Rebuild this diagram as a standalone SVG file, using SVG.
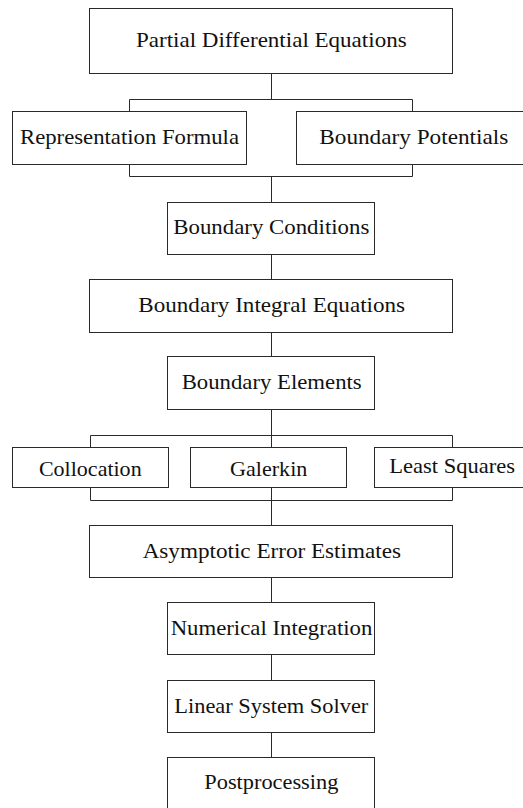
<svg xmlns="http://www.w3.org/2000/svg" width="523" height="808" viewBox="0 0 523 808">
<style>
.box{fill:#fff;stroke:#2a2a2a;stroke-width:1}
.lbl{font-family:"Liberation Serif","DejaVu Serif",serif;font-size:22px;fill:#111;text-anchor:middle}
.con{fill:none;stroke:#2a2a2a;stroke-width:1}
</style>
<rect width="523" height="808" fill="#fff"/>
<g id="connectors" class="con">
<path d="M271.5 73.5V99.5M129.5 111.5V99.5H412.5V111.5"/>
<path d="M129.5 164.5V176.5H412.5V164.5M271.5 176.5V202.5"/>
<path d="M271.5 254.5V279.5M271.5 332.5V356.5"/>
<path d="M271.5 409.5V447.5M90.5 447.5V435.5H452.5V447.5"/>
<path d="M90.5 487.5V500.5H452.5V487.5M271.5 487.5V525.5"/>
<path d="M271.5 577.5V602.5M271.5 654.5V680.5M271.5 732.5V757.5"/>
</g>
<g id="pde"><rect class="box" x="89.5" y="8.5" width="363" height="65"/><text class="lbl" x="271.3" y="46.7" textLength="270.7" lengthAdjust="spacingAndGlyphs">Partial Differential Equations</text></g>
<g id="repformula"><rect class="box" x="12.5" y="111.5" width="234" height="53"/><text class="lbl" x="129.5" y="144" textLength="219" lengthAdjust="spacingAndGlyphs">Representation Formula</text></g>
<g id="bpotentials"><rect class="box" x="296.5" y="111.5" width="232" height="53"/><text class="lbl" x="413.8" y="144" textLength="189" lengthAdjust="spacingAndGlyphs">Boundary Potentials</text></g>
<g id="bconditions"><rect class="box" x="167.5" y="202.5" width="207" height="52"/><text class="lbl" x="271.3" y="234.3" textLength="196" lengthAdjust="spacingAndGlyphs">Boundary Conditions</text></g>
<g id="bie"><rect class="box" x="89.5" y="279.5" width="363" height="53"/><text class="lbl" x="271.7" y="311.8" textLength="266.7" lengthAdjust="spacingAndGlyphs">Boundary Integral Equations</text></g>
<g id="belements"><rect class="box" x="167.5" y="356.5" width="207" height="53"/><text class="lbl" x="271.7" y="389" textLength="180" lengthAdjust="spacingAndGlyphs">Boundary Elements</text></g>
<g id="collocation"><rect class="box" x="12.5" y="447.5" width="156" height="40"/><text class="lbl" x="90.3" y="475.7" textLength="102.7" lengthAdjust="spacingAndGlyphs">Collocation</text></g>
<g id="galerkin"><rect class="box" x="190.5" y="447.5" width="156" height="40"/><text class="lbl" x="268.7" y="475.7" textLength="77.3" lengthAdjust="spacingAndGlyphs">Galerkin</text></g>
<g id="leastsquares"><rect class="box" x="374.5" y="447.5" width="156" height="40"/><text class="lbl" x="452.2" y="473.3" textLength="125.7" lengthAdjust="spacingAndGlyphs">Least Squares</text></g>
<g id="asymptotic"><rect class="box" x="89.5" y="525.5" width="363" height="52"/><text class="lbl" x="271.8" y="557.7" textLength="258.3" lengthAdjust="spacingAndGlyphs">Asymptotic Error Estimates</text></g>
<g id="numint"><rect class="box" x="167.5" y="602.5" width="207" height="52"/><text class="lbl" x="271.5" y="634.8" textLength="201.7" lengthAdjust="spacingAndGlyphs">Numerical Integration</text></g>
<g id="linsolver"><rect class="box" x="167.5" y="680.5" width="207" height="52"/><text class="lbl" x="271.3" y="712.5" textLength="194" lengthAdjust="spacingAndGlyphs">Linear System Solver</text></g>
<g id="postprocessing"><rect class="box" x="167.5" y="757.5" width="207" height="52"/><text class="lbl" x="271.3" y="789.3" textLength="134" lengthAdjust="spacingAndGlyphs">Postprocessing</text></g>
</svg>
